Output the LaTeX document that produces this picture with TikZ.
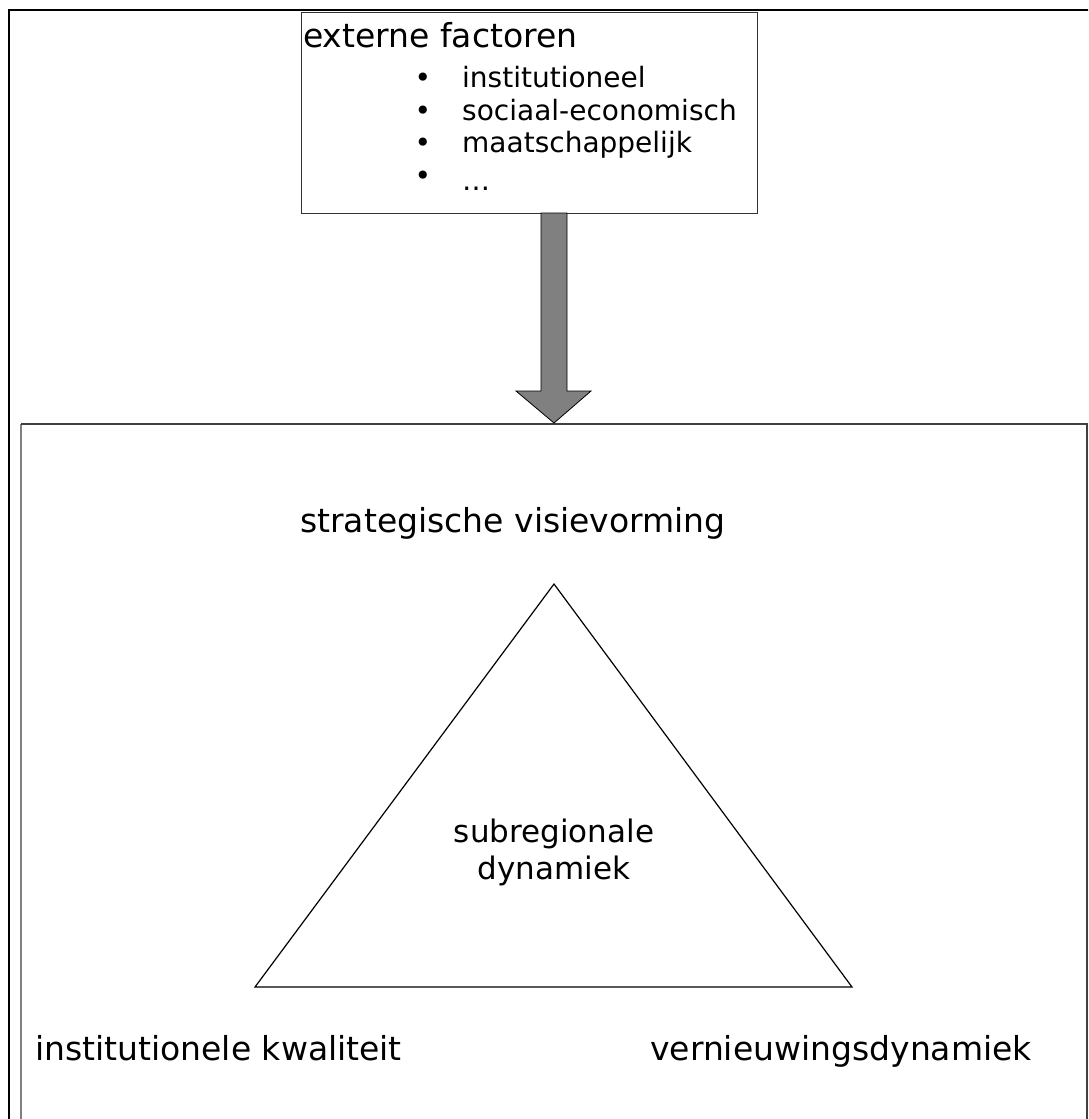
\documentclass[tikz,border=0pt]{standalone}
\usepackage{fontspec}
\setmainfont{DejaVu Sans}
\begin{document}
\begin{tikzpicture}[x=1pt,y=-1pt,
  lbl/.style={inner sep=0pt,font=\fontsize{33}{37}\selectfont},
  itm/.style={inner sep=0pt,anchor=base west,font=\fontsize{28}{32}\selectfont},
  bul/.style={inner sep=0pt,anchor=base,font=\fontsize{28}{32}\selectfont}]
\clip (0,0) rectangle (1088,1119);
\fill[white] (0,0) rectangle (1088,1119);
% outer frame, running past the right and bottom edges
\draw[line width=2.5pt,black] (9,1140) -- (9,10) -- (1110,10);
% lower panel
\draw[line width=1.5pt,black!50] (21,1140) -- (21,424);
\draw[line width=1.5pt,black!75] (21,424) -- (1087,424) -- (1087,1140);
% box of external factors
\node[draw=black!80,line width=1pt,minimum width=456pt,minimum height=201pt,inner sep=0pt,anchor=north west] (ext) at (301,12) {};
\node[lbl,anchor=base west] (exttitle) at (303,47) {externe factoren};
\node[bul] (b1) at (423,87) {•};
\node[itm] (i1) at (462,87) {institutioneel};
\node[bul] (b2) at (423,120) {•};
\node[itm] (i2) at (462,120) {sociaal-economisch};
\node[bul] (b3) at (423,152) {•};
\node[itm] (i3) at (462,152) {maatschappelijk};
\node[bul] (b4) at (423,185) {•};
\node[itm] (i4) at (462,190) {…};
% block arrow from the box into the panel
\coordinate (tip) at (554,423);
\filldraw[fill=black!50,draw=black,line width=0.8pt]
  (541,213) -- (567,213) -- (567,391) -- (591,391) -- (tip) -- (516,391) -- (541,391) -- cycle;
% triangle
\coordinate (apex) at (554,584);
\coordinate (bl) at (255,987);
\coordinate (br) at (852,987);
\draw[line width=1.2pt,line join=miter] (apex) -- (bl) -- (br) -- cycle;
% labels
\node[lbl,anchor=base] (strat) at (513,532) {strategische visievorming};
\node[lbl,align=center,anchor=base,font=\fontsize{31}{37}\selectfont] (sub) at (554,879) {subregionale\\dynamiek};
\node[lbl,anchor=base west] (inst) at (35,1060) {institutionele kwaliteit};
\node[lbl,anchor=base] (vern) at (841,1060) {vernieuwingsdynamiek};
\end{tikzpicture}
\end{document}
